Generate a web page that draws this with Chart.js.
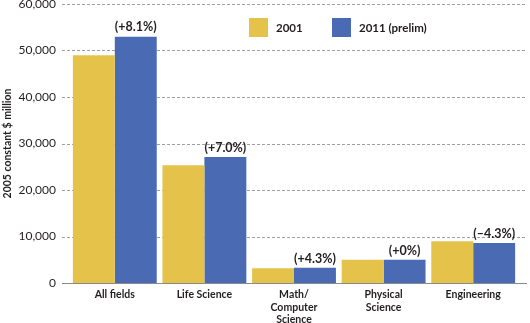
<!DOCTYPE html>
<html>
<head>
<meta charset="utf-8">
<script src="https://cdn.jsdelivr.net/npm/chart.js@4"></script>
<style>
  html, body { margin: 0; padding: 0; background: #fff; }
  #wrap { width: 530px; height: 323px; }
</style>
</head>
<body>
<div id="wrap"><canvas id="myChart" width="530" height="323"></canvas></div>
<script>
var fields = ['All fields', 'Life Science', ['Math/', 'Computer', 'Science'], ['Physical', 'Science'], 'Engineering'];
var seriesNames = ['2001', '2011 (prelim)'];
var spend2001 = [49000, 25300, 3150, 5000, 9000];
var spend2011 = [52970, 27070, 3285, 5000, 8613];
var changeLabels = ['(+8.1%)', '(+7.0%)', '(+4.3%)', '(+0%)', '(\u20134.3%)'];
var yTicks = [0, 10000, 20000, 30000, 40000, 50000, 60000];

var yellow = '#E5C34B';
var blue = '#4A6AB3';
var ink = '#231F20';
var fontFamily = 'Lato, "Open Sans", sans-serif';

// horizontal rules run a bit wider than the bars on both sides
var ruleLeft = 62;
var ruleRight = 527;

var wideGrid = {
  id: 'wideGrid',
  beforeDatasetsDraw: function(chart) {
    var ctx = chart.ctx;
    var y = chart.scales.y;
    ctx.save();
    ctx.lineWidth = 1;
    yTicks.forEach(function(v) {
      var py = Math.round(y.getPixelForValue(v)) + 0.5;
      ctx.beginPath();
      if (v === 0) {
        ctx.setLineDash([]);
        ctx.strokeStyle = '#8a8a8a';
      } else {
        ctx.setLineDash([3, 2]);
        ctx.strokeStyle = '#a0a0a0';
      }
      ctx.moveTo(ruleLeft, py);
      ctx.lineTo(ruleRight, py);
      ctx.stroke();
    });
    ctx.restore();
  }
};

// percent change written above each 2011 bar
var changeText = {
  id: 'changeText',
  afterDatasetsDraw: function(chart) {
    var ctx = chart.ctx;
    var meta = chart.getDatasetMeta(1);
    ctx.save();
    ctx.font = 'bold 12.5px ' + fontFamily;
    ctx.fillStyle = ink;
    ctx.textAlign = 'center';
    ctx.textBaseline = 'bottom';
    meta.data.forEach(function(bar, i) {
      ctx.fillText(changeLabels[i], bar.x, bar.y - 3);
    });
    ctx.restore();
  }
};

// legend boxes sitting inside the plot
var boxLegend = {
  id: 'boxLegend',
  afterDraw: function(chart) {
    var ctx = chart.ctx;
    var items = [
      { x: 249, color: yellow, text: seriesNames[0] },
      { x: 332, color: blue, text: seriesNames[1] }
    ];
    ctx.save();
    ctx.font = 'bold 11.5px ' + fontFamily;
    ctx.textBaseline = 'middle';
    ctx.textAlign = 'left';
    items.forEach(function(it) {
      ctx.fillStyle = it.color;
      ctx.fillRect(it.x, 18, 19, 19);
      ctx.fillStyle = ink;
      ctx.fillText(it.text, it.x + 27, 28);
    });
    ctx.restore();
  }
};

var ctx = document.getElementById('myChart').getContext('2d');
var myChart = new Chart(ctx, {
  type: 'bar',
  data: {
    labels: fields,
    datasets: [{
      label: seriesNames[0],
      data: spend2001,
      backgroundColor: yellow
    }, {
      label: seriesNames[1],
      data: spend2011,
      backgroundColor: blue
    }]
  },
  options: {
    responsive: false,
    animation: false,
    layout: { padding: { top: 4, right: 12, left: 1, bottom: 0 } },
    datasets: {
      bar: { categoryPercentage: 0.936, barPercentage: 1.0 }
    },
    plugins: {
      legend: { display: false },
      tooltip: { enabled: false }
    },
    scales: {
      x: {
        grid: { display: false, drawTicks: false },
        border: { display: false },
        ticks: {
          color: ink,
          padding: 6,
          maxRotation: 0,
          autoSkip: false,
          font: { family: fontFamily, size: 10.5, weight: 'bold', lineHeight: 1.15 }
        },
        afterFit: function(scale) { scale.height = 40; }
      },
      y: {
        min: 0,
        max: 60000,
        grid: { display: false, drawTicks: false },
        border: { display: false },
        ticks: {
          stepSize: 10000,
          color: ink,
          padding: 14,
          font: { family: fontFamily, size: 12 },
          callback: function(v) { return v.toLocaleString('en-US'); }
        },
        title: {
          display: true,
          text: '2005 constant $ million',
          color: ink,
          padding: { top: 0, bottom: 3 },
          font: { family: fontFamily, size: 10.5, weight: 'bold' }
        },
        afterFit: function(scale) {
          scale.width = 69;
          // keep the tick gap from eating into the plot height
          scale.paddingTop = 0;
          scale.paddingBottom = 0;
        }
      }
    }
  },
  plugins: [wideGrid, changeText, boxLegend]
});
</script>
</body>
</html>
